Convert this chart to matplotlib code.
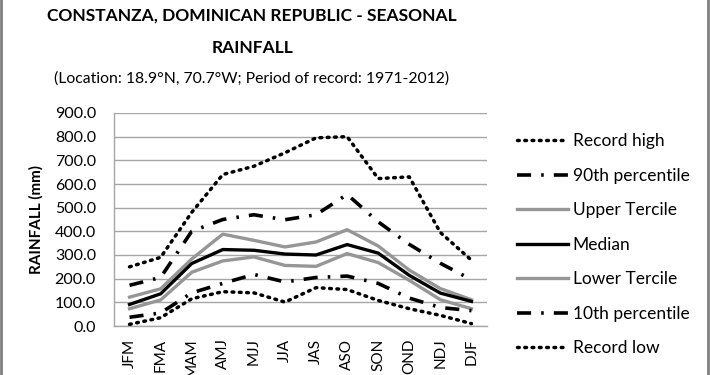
import matplotlib
matplotlib.use("Agg")
import matplotlib.pyplot as plt
from matplotlib.lines import Line2D

plt.rcParams['font.family'] = ['Lato', 'DejaVu Sans']

seasons = ["JFM", "FMA", "MAM", "AMJ", "MJJ", "JJA", "JAS", "ASO", "SON", "OND", "NDJ", "DJF"]
record_high = [250, 290, 480, 640, 675, 732, 795, 800, 623, 630, 395, 278]
p90 = [172, 205, 400, 450, 470, 449, 470, 556, 440, 345, 265, 196]
upper_tercile = [122, 157, 283, 388, 362, 334, 355, 407, 338, 236, 158, 111]
median = [91, 136, 264, 323, 320, 304, 300, 344, 308, 214, 139, 104]
lower_tercile = [73, 110, 227, 275, 292, 256, 252, 306, 268, 193, 111, 73]
p10 = [37, 55, 140, 180, 218, 186, 205, 211, 180, 118, 78, 65]
record_low = [7, 35, 115, 145, 140, 101, 162, 154, 108, 73, 45, 10]
yticks = [0, 100, 200, 300, 400, 500, 600, 700, 800, 900]

fig = plt.figure(figsize=(7.1, 3.75), dpi=100)
ax = fig.add_axes([114/710, 1-326/375, 373/710, 213/375])

x = list(range(len(seasons)))
gray = '#969696'
dashdot = (0, (3.9, 2.8, 0.7, 2.8))
dot = (0, (0.5, 1.6))

series = [
    ("Record high", record_high, dict(color='black', lw=2.5, linestyle=dot, dash_capstyle='round')),
    ("90th percentile", p90, dict(color='black', lw=2.6, linestyle=dashdot, dash_capstyle='butt')),
    ("Upper Tercile", upper_tercile, dict(color=gray, lw=2.4, linestyle='-')),
    ("Median", median, dict(color='black', lw=2.4, linestyle='-')),
    ("Lower Tercile", lower_tercile, dict(color=gray, lw=2.4, linestyle='-')),
    ("10th percentile", p10, dict(color='black', lw=2.6, linestyle=dashdot, dash_capstyle='butt')),
    ("Record low", record_low, dict(color='black', lw=2.5, linestyle=dot, dash_capstyle='round')),
]
handles = []
for label, vals, style in series:
    ln, = ax.plot(x, vals, label=label, zorder=3, **style)
    handles.append(ln)

ax.set_xlim(-0.5, len(seasons) - 0.5)
ax.set_ylim(0, 900)
ax.set_yticks(yticks)
ax.set_yticklabels([f"{v:.1f}" for v in yticks], fontsize=11.5)
ax.set_xticks(x)
ax.set_xticklabels(seasons, rotation=90, fontsize=11)
ax.tick_params(axis='y', length=0, pad=13)
ax.tick_params(axis='x', length=0, pad=9)
ax.yaxis.grid(True, color='#a6a6a6', lw=1)
ax.set_axisbelow(True)
for s in ['top', 'right']:
    ax.spines[s].set_visible(False)
for s in ['left', 'bottom']:
    ax.spines[s].set_color('#a6a6a6')
    ax.spines[s].set_linewidth(1)
ax.set_ylabel("RAINFALL (mm)", fontsize=11, fontweight='bold', labelpad=8)

fig.text(252/710, 1-16/375, "CONSTANZA, DOMINICAN REPUBLIC - SEASONAL", ha='center', va='center',
         fontsize=12.5, fontweight='bold')
fig.text(252/710, 1-48/375, "RAINFALL", ha='center', va='center', fontsize=12.5, fontweight='bold')
fig.text(252/710, 1-79/375, "(Location: 18.9°N, 70.7°W; Period of record: 1971-2012)", ha='center',
         va='center', fontsize=11.3)

leg = fig.legend(handles=handles, loc='upper left', bbox_to_anchor=(517/710, 1-133/375),
                 frameon=False, fontsize=12.5, handlelength=2.95, handletextpad=0.25,
                 labelspacing=1.07, borderaxespad=0, borderpad=0)

fig.add_artist(Line2D([1.5/710, 1.5/710], [0, 1], color='#808080', lw=2))
fig.add_artist(Line2D([707.5/710, 707.5/710], [0, 1], color='#808080', lw=2))

fig.savefig("out.png", dpi=100)
